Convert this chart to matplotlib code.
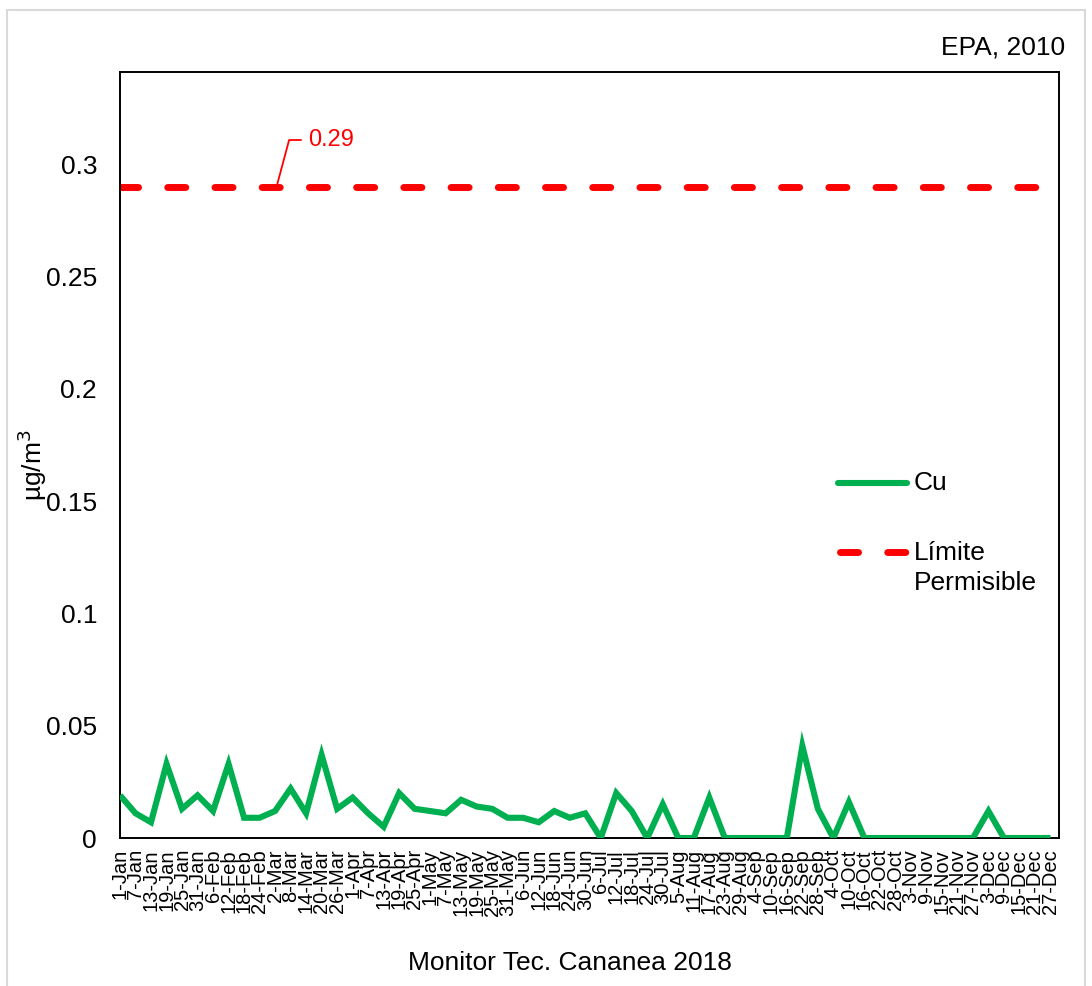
import matplotlib
matplotlib.use("Agg")
import matplotlib.pyplot as plt
from matplotlib.patches import Rectangle
from matplotlib.lines import Line2D

plt.rcParams['font.family'] = ['Liberation Sans', 'DejaVu Sans']

dates = ["1-Jan", "7-Jan", "13-Jan", "19-Jan", "25-Jan", "31-Jan", "6-Feb", "12-Feb",
         "18-Feb", "24-Feb", "2-Mar", "8-Mar", "14-Mar", "20-Mar", "26-Mar", "1-Apr",
         "7-Apr", "13-Apr", "19-Apr", "25-Apr", "1-May", "7-May", "13-May", "19-May",
         "25-May", "31-May", "6-Jun", "12-Jun", "18-Jun", "24-Jun", "30-Jun", "6-Jul",
         "12-Jul", "18-Jul", "24-Jul", "30-Jul", "5-Aug", "11-Aug", "17-Aug", "23-Aug",
         "29-Aug", "4-Sep", "10-Sep", "16-Sep", "22-Sep", "28-Sep", "4-Oct", "10-Oct",
         "16-Oct", "22-Oct", "28-Oct", "3-Nov", "9-Nov", "15-Nov", "21-Nov", "27-Nov",
         "3-Dec", "9-Dec", "15-Dec", "21-Dec", "27-Dec"]

cu = [0.019, 0.011, 0.007, 0.033, 0.013, 0.019, 0.012, 0.033, 0.009, 0.009,
      0.012, 0.022, 0.011, 0.037, 0.013, 0.018, 0.011, 0.005, 0.020, 0.013,
      0.012, 0.011, 0.017, 0.014, 0.013, 0.009, 0.009, 0.007, 0.012, 0.009,
      0.011, 0.000, 0.020, 0.012, 0.000, 0.015, 0.000, 0.000, 0.018, 0.000,
      0.000, 0.000, 0.000, 0.000, 0.041, 0.013, 0.000, 0.016, 0.000, 0.000,
      0.000, 0.000, 0.000, 0.000, 0.000, 0.000, 0.012, 0.000, 0.000, 0.000,
      0.000]

limit_value = 0.29
limit = [limit_value] * len(dates)

yticks = [0, 0.05, 0.1, 0.15, 0.2, 0.25, 0.3]
ytick_labels = ["0", "0.05", "0.1", "0.15", "0.2", "0.25", "0.3"]

W, H = 1092, 986
fig = plt.figure(figsize=(W / 100, H / 100), dpi=100)
fig.patch.set_facecolor('white')

# axes in pixel coordinates: left 120, right 1059, top 72, bottom 838
L, R, T, B = 120, 1059, 72, 838
ax = fig.add_axes([L / W, 1 - B / H, (R - L) / W, (B - T) / H])

x = list(range(len(dates)))
green = '#00B050'
red = '#FF0000'

ax.plot(x, limit, color=red, lw=5, dashes=(2.6, 4.2), dash_capstyle='round',
        solid_capstyle='round', zorder=2)
ax.plot(x, cu, color=green, lw=4.4, solid_joinstyle='miter', solid_capstyle='butt',
        zorder=3)

ax.set_xlim(0, 60.55)
ax.set_ylim(0, 0.341)
ax.set_yticks(yticks)
ax.set_yticklabels(ytick_labels, fontsize=19)
ax.set_xticks(x)
ax.set_xticklabels(dates, rotation=90, fontsize=14.5, va='top', ha='center')
ax.tick_params(axis='both', length=0)
ax.tick_params(axis='x', pad=8)
ax.tick_params(axis='y', pad=16.5)
for s in ax.spines.values():
    s.set_linewidth(1.4)
    s.set_color('black')

# annotation 0.29
ax.annotate("0.29", xy=(10.1, limit_value), xycoords='data',
            xytext=(308 / W, 1 - 140 / H), textcoords='figure fraction',
            color=red, fontsize=17, va='center', ha='left',
            arrowprops=dict(arrowstyle='-', color=red, lw=1.3,
                            connectionstyle='angle,angleA=0,angleB=75,rad=0',
                            shrinkA=3, shrinkB=0))

# manual legend
def fx(px):
    return (px - L) / (R - L)

def fy(py):
    return (B - py) / (B - T)

ax.add_line(Line2D([fx(838), fx(907)], [fy(483), fy(483)], transform=ax.transAxes,
                   color=green, lw=4.4, solid_capstyle='round', clip_on=False))
ax.add_line(Line2D([fx(840), fx(907)], [fy(552), fy(552)], transform=ax.transAxes,
                   color=red, lw=5, dashes=(2.6, 4.2), dash_capstyle='round',
                   clip_on=False))
ax.text(fx(914), fy(483), "Cu", transform=ax.transAxes, fontsize=19,
        va='center', ha='left')
ax.text(fx(914), fy(553), "Límite", transform=ax.transAxes, fontsize=19,
        va='center', ha='left')
ax.text(fx(914), fy(583), "Permisible", transform=ax.transAxes, fontsize=19,
        va='center', ha='left')

# titles / labels
fig.text(1065 / W, 1 - 48 / H, "EPA, 2010", fontsize=19, ha='right', va='center')
fig.text(570 / W, 1 - 963 / H, "Monitor Tec. Cananea 2018", fontsize=19,
         ha='center', va='center')
fig.text(32 / W, 1 - 465 / H, "µg/m$^3$", fontsize=19, rotation=90,
         ha='center', va='center')

# outer light border
fig.add_artist(Rectangle((7 / W, 1 - 995 / H), (1085 - 7) / W, (995 - 10) / H,
                         transform=fig.transFigure, fill=False,
                         edgecolor='#D9D9D9', lw=1.5))

fig.savefig("out.png", dpi=100)
